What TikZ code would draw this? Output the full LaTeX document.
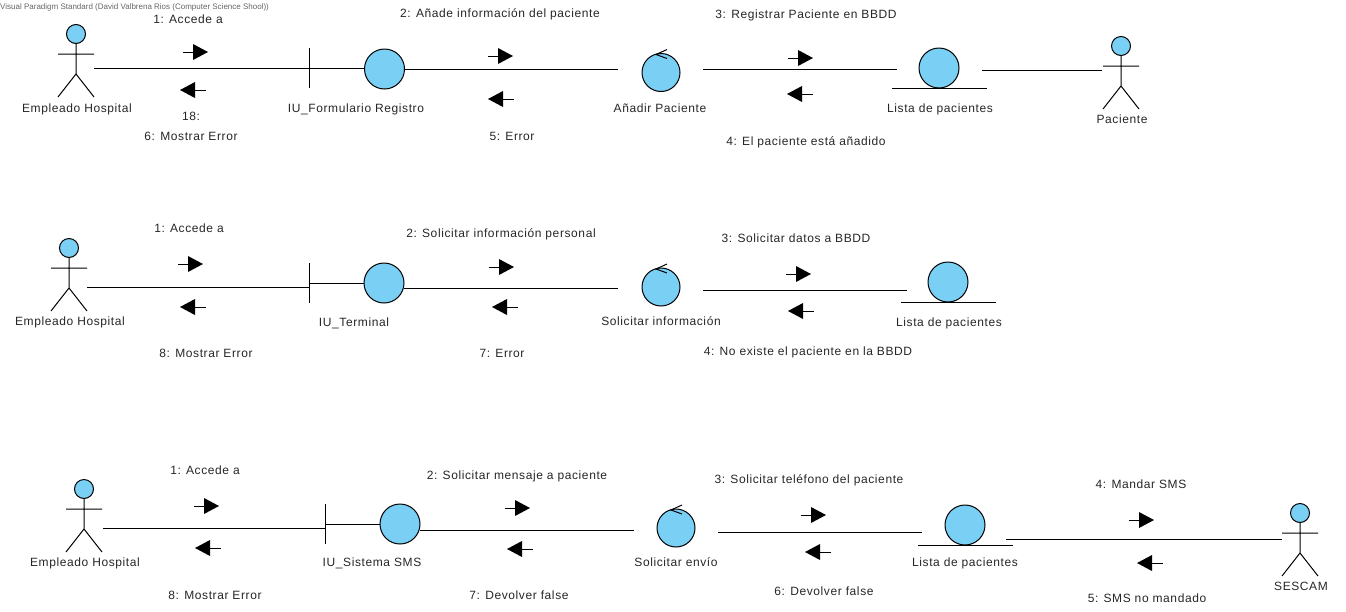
\documentclass[tikz,border=0pt]{standalone}
\usepackage{fontspec}
\setmainfont[LetterSpace=5]{Liberation Sans}
\newfontfamily\wmfont{Liberation Sans}
\definecolor{fillblue}{HTML}{7ACFF5}
\tikzset{
  lbl/.style={font=\fontsize{12}{14}\selectfont,inner sep=0pt,text=black!85,text height=9pt,text depth=1pt},
  ball/.style={circle,draw=black,fill=fillblue,line width=1pt,inner sep=0pt,outer sep=0pt,minimum size=#1},
  conn/.style={draw=black,line width=1pt},
}
% actor: name, x, y(head centre)
\newcommand{\actorfig}[3]{%
  \node[ball=19pt] (#1) at (#2,#3) {};
  \coordinate (#1w) at (#2-18,#3+20);
  \coordinate (#1e) at (#2+18,#3+20);
  \coordinate (#1h) at (#2,#3+40);
  \coordinate (#1l) at (#2-18,#3+63);
  \coordinate (#1r) at (#2+18,#3+63);
  \draw[conn] (#1.south) -- (#1h) -- (#1l) (#1h) -- (#1r) (#1w) -- (#1e);
}
% control: name, x, y
\newcommand{\controlfig}[3]{%
  \node[ball=38pt] (#1) at (#2,#3) {};
  \draw[conn] (#2+6,#3-23) -- (#2-5,#3-18) -- (#2+6,#3-14);
}
% entity: name, x, y
\newcommand{\entityfig}[3]{%
  \node[ball=40pt] (#1) at (#2,#3) {};
  \coordinate (#1a) at (#2-47,#3+20);
  \coordinate (#1b) at (#2+48,#3+20);
  \draw[conn] (#1a) -- (#1b);
}
% boundary: name, x, y
\newcommand{\boundfig}[3]{%
  \coordinate (#1) at (#2,#3);
  \coordinate (#1t) at (#2,#3-20);
  \coordinate (#1b) at (#2,#3+20);
  \draw[conn] (#1t) -- (#1b);
}
% message arrows: x of left end, y
\newcommand{\rarrow}[2]{%
  \draw[conn] (#1,#2) -- (#1+11,#2);
  \fill[black] (#1+10,#2-8) -- (#1+25,#2) -- (#1+10,#2+8) -- cycle;
}
\newcommand{\larrow}[2]{%
  \draw[conn] (#1+14,#2) -- (#1+26,#2);
  \fill[black] (#1+15,#2-8) -- (#1,#2) -- (#1+15,#2+8) -- cycle;
}
\begin{document}
\begin{tikzpicture}[x=1pt,y=-1pt]
\useasboundingbox (0,0) rectangle (1346,611);
\node[font=\wmfont\fontsize{8}{9}\selectfont,text=black!60,inner sep=0pt,anchor=west] (wm) at (0,7) {Visual Paradigm Standard (David Valbrena Rios (Computer Science Shool))};

% ---- row 1
\actorfig{a1}{76}{34}
\boundfig{b1}{309}{68}
\node[ball=40pt] (c1) at (384.5,69) {};
\controlfig{k1}{661}{72.5}
\entityfig{e1}{939}{68}
\actorfig{p1}{1121}{46}
\coordinate (a1x) at (94,68);
\coordinate (c1x) at (618,69);
\coordinate (k1x) at (703,69);
\coordinate (e1x) at (897,69);
\coordinate (e1y) at (982,70);
\coordinate (p1x) at (1102,70);
\draw[conn] (a1x) -- (b1);
\draw[conn] (b1) -- (b1 -| c1.west);
\draw[conn] (c1.east) -- (c1x);
\draw[conn] (k1x) -- (e1x);
\draw[conn] (e1y) -- (p1x);
\rarrow{183}{52}\larrow{180}{90}
\rarrow{488}{56}\larrow{488}{99}
\rarrow{788}{58}\larrow{787}{94}
\node[lbl] (t1) at (188,19) {1: Accede a};
\node[lbl] (t2) at (500,13) {2: Añade información del paciente};
\node[lbl] (t3) at (806,14) {3: Registrar Paciente en BBDD};
\node[lbl] (t4) at (806,141) {4: El paciente está añadido};
\node[lbl] (t5) at (512,136) {5: Error};
\node[lbl] (t6) at (191,136) {6: Mostrar Error};
\node[lbl] (t18) at (191,116) {18:};
\node[lbl] (n1) at (77,108) {Empleado Hospital};
\node[lbl] (n2) at (356,108) {IU\_Formulario Registro};
\node[lbl] (n3) at (660,108) {Añadir Paciente};
\node[lbl] (n4) at (940,108) {Lista de pacientes};
\node[lbl] (n5) at (1122,119) {Paciente};

% ---- row 2
\actorfig{a2}{69}{248}
\boundfig{b2}{309}{283}
\node[ball=40pt] (c2) at (384,283) {};
\controlfig{k2}{661}{287}
\entityfig{e2}{948}{282}
\coordinate (a2x) at (87,287);
\coordinate (b2m) at (309,287);
\coordinate (c2x) at (618,288);
\coordinate (c2s) at (404,288);
\coordinate (k2x) at (703,290);
\coordinate (e2x) at (907,290);
\draw[conn] (a2x) -- (b2m);
\draw[conn] (b2) -- (c2.west);
\draw[conn] (c2s) -- (c2x);
\draw[conn] (k2x) -- (e2x);
\rarrow{178}{264}\larrow{180}{307}
\rarrow{489}{267}\larrow{492}{307}
\rarrow{786}{274}\larrow{788}{311}
\node[lbl] (u1) at (189,228) {1: Accede a};
\node[lbl] (u2) at (501,233) {2: Solicitar información personal};
\node[lbl] (u3) at (796,238) {3: Solicitar datos a BBDD};
\node[lbl] (u4) at (808,351) {4: No existe el paciente en la BBDD};
\node[lbl] (u7) at (502,353) {7: Error};
\node[lbl] (u8) at (206,353) {8: Mostrar Error};
\node[lbl] (m1) at (70,321) {Empleado Hospital};
\node[lbl] (m2) at (354,322) {IU\_Terminal};
\node[lbl] (m3) at (661,321) {Solicitar información};
\node[lbl] (m4) at (949,322) {Lista de pacientes};

% ---- row 3
\actorfig{a3}{84}{489}
\boundfig{b3}{325}{524}
\node[ball=40pt] (c3) at (400,524) {};
\controlfig{k3}{676}{528}
\entityfig{e3}{965}{525}
\actorfig{p3}{1300}{513}
\coordinate (a3x) at (103,528);
\coordinate (b3m) at (325,528);
\coordinate (c3s) at (420,530);
\coordinate (c3x) at (634,530);
\coordinate (k3x) at (718,532);
\coordinate (e3x) at (922,532);
\coordinate (e3y) at (1006,539);
\coordinate (p3x) at (1282,539);
\draw[conn] (a3x) -- (b3m);
\draw[conn] (b3) -- (c3.west);
\draw[conn] (c3s) -- (c3x);
\draw[conn] (k3x) -- (e3x);
\draw[conn] (e3y) -- (p3x);
\rarrow{194}{506}\larrow{195}{548}
\rarrow{505}{508}\larrow{507}{549}
\rarrow{801}{515}\larrow{805}{552}
\rarrow{1129}{520}\larrow{1137}{563}
\node[lbl] (v1) at (205,470) {1: Accede a};
\node[lbl] (v2) at (517,475) {2: Solicitar mensaje a paciente};
\node[lbl] (v3) at (809,479) {3: Solicitar teléfono del paciente};
\node[lbl] (v4) at (1141,484) {4: Mandar SMS};
\node[lbl] (v5) at (1147,598) {5: SMS no mandado};
\node[lbl] (v6) at (824,591) {6: Devolver false};
\node[lbl] (v7) at (519,595) {7: Devolver false};
\node[lbl] (v8) at (215,595) {8: Mostrar Error};
\node[lbl] (o1) at (85,562) {Empleado Hospital};
\node[lbl] (o2) at (372,562) {IU\_Sistema SMS};
\node[lbl] (o3) at (676,562) {Solicitar envío};
\node[lbl] (o4) at (965,562) {Lista de pacientes};
\node[lbl] (o5) at (1301,586) {SESCAM};
\end{tikzpicture}
\end{document}
